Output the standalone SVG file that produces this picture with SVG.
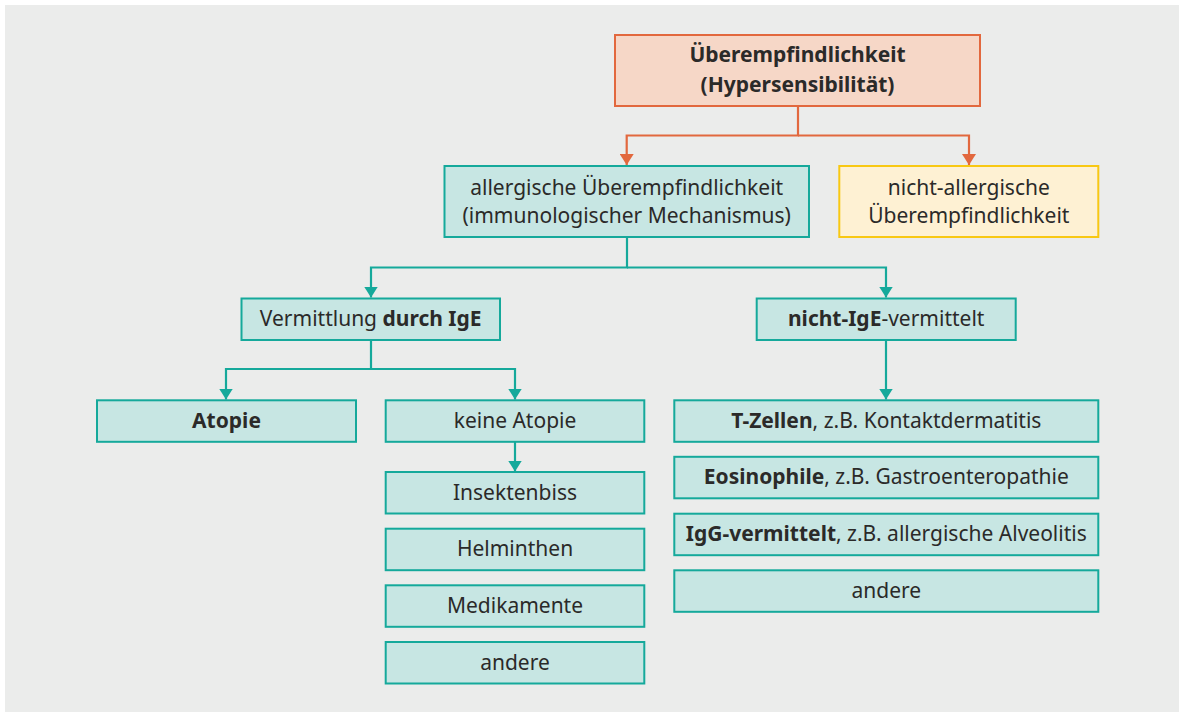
<svg xmlns="http://www.w3.org/2000/svg" width="1179" height="712" viewBox="0 0 1179 712">
<style>
text{font-family:"Noto Sans","Open Sans","Liberation Sans",sans-serif;font-size:21px;fill:#2b2a29;text-anchor:middle}
.b{font-weight:bold}
.t{fill:#c7e6e3;stroke:#15a99b;stroke-width:2}
.o{fill:#f6d7c7;stroke:#e2683e;stroke-width:2}
.y{fill:#fef1d3;stroke:#f8c813;stroke-width:2}
.ct{fill:none;stroke:#15a99b;stroke-width:2.2}
.co{fill:none;stroke:#e2683e;stroke-width:2.2}
</style>
<defs>
<marker id="at" viewBox="0 0 14 11" refX="7" refY="11" markerWidth="14" markerHeight="11" markerUnits="userSpaceOnUse" orient="0"><path d="M0,0 L14,0 L7,11 Z" fill="#15a99b"/></marker>
<marker id="ao" viewBox="0 0 14 11" refX="7" refY="11" markerWidth="14" markerHeight="11" markerUnits="userSpaceOnUse" orient="0"><path d="M0,0 L14,0 L7,11 Z" fill="#e2683e"/></marker>
</defs>
<rect x="5" y="5" width="1174" height="707" fill="#ebeceb"/>
<g id="connectors">
<path class="co" d="M798,106 V135.5 H626.7 V165" marker-end="url(#ao)"/>
<path class="co" d="M798,135.5 H969 V165" marker-end="url(#ao)"/>
<path class="ct" d="M627,237 V267.5 H371 V297.5" marker-end="url(#at)"/>
<path class="ct" d="M627,267.5 H886 V297.5" marker-end="url(#at)"/>
<path class="ct" d="M371,340 V369 H226 V399.5" marker-end="url(#at)"/>
<path class="ct" d="M371,369 H515 V399.5" marker-end="url(#at)"/>
<path class="ct" d="M515,442 V471.5" marker-end="url(#at)"/>
<path class="ct" d="M886,340 V399.5" marker-end="url(#at)"/>
</g>
<g id="n-top"><rect class="o" x="615" y="35" width="365" height="71"/><text class="b" x="797.5" y="62">Überempfindlichkeit</text><text class="b" x="797.5" y="91.5">(Hypersensibilität)</text></g>
<g id="n-allerg"><rect class="t" x="444.5" y="166" width="364.5" height="71"/><text x="626.7" y="194.5">allergische Überempfindlichkeit</text><text x="626.7" y="223">(immunologischer Mechanismus)</text></g>
<g id="n-nichtallerg"><rect class="y" x="839.3" y="166" width="259" height="71"/><text x="968.8" y="194.5">nicht-allergische</text><text x="968.8" y="223">Überempfindlichkeit</text></g>
<g id="n-ige"><rect class="t" x="241.5" y="298.5" width="258.5" height="41.5"/><text x="370.7" y="326">Vermittlung <tspan class="b">durch IgE</tspan></text></g>
<g id="n-nichtige"><rect class="t" x="756.7" y="298.5" width="259" height="41.5"/><text x="886.2" y="326"><tspan class="b">nicht-IgE</tspan>-vermittelt</text></g>
<g id="n-atopie"><rect class="t" x="97" y="400.3" width="259" height="41.5"/><text class="b" x="226.5" y="427.5">Atopie</text></g>
<g id="n-keine"><rect class="t" x="385.7" y="400.3" width="258.6" height="41.5"/><text x="515" y="427.5">keine Atopie</text></g>
<g id="n-insekt"><rect class="t" x="385.7" y="472" width="258.6" height="41.5"/><text x="515" y="499.5">Insektenbiss</text></g>
<g id="n-helm"><rect class="t" x="385.7" y="528.7" width="258.6" height="41.5"/><text x="515" y="556.2">Helminthen</text></g>
<g id="n-medi"><rect class="t" x="385.7" y="585.3" width="258.6" height="41.5"/><text x="515" y="612.8">Medikamente</text></g>
<g id="n-andere1"><rect class="t" x="385.7" y="642" width="258.6" height="41.5"/><text x="515" y="669.5">andere</text></g>
<g id="n-tzellen"><rect class="t" x="674.3" y="400.3" width="424" height="41.5"/><text x="886.3" y="427.5"><tspan class="b">T-Zellen</tspan>, z.B. Kontaktdermatitis</text></g>
<g id="n-eosin"><rect class="t" x="674.3" y="456.8" width="424" height="41.5"/><text x="886.3" y="484"><tspan class="b">Eosinophile</tspan>, z.B. Gastroenteropathie</text></g>
<g id="n-igg"><rect class="t" x="674.3" y="513.7" width="424" height="41.5"/><text x="886.3" y="540.9"><tspan class="b">IgG-vermittelt</tspan>, z.B. allergische Alveolitis</text></g>
<g id="n-andere2"><rect class="t" x="674.3" y="570.3" width="424" height="41.5"/><text x="886.3" y="597.5">andere</text></g>
</svg>
